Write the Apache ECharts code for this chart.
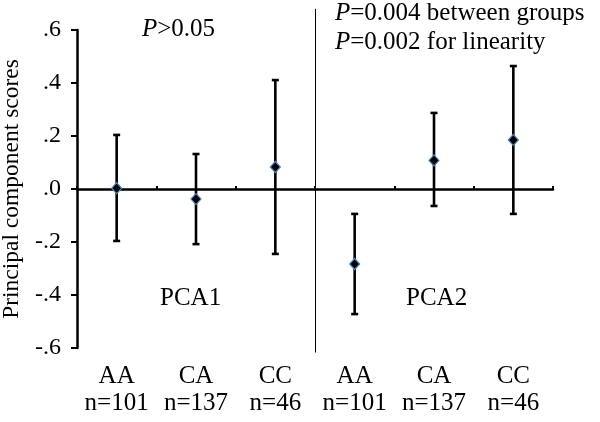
<!DOCTYPE html>
<html>
<head>
<meta charset="utf-8">
<script src="https://cdn.jsdelivr.net/npm/echarts@6/dist/echarts.min.js"></script>
<style>html,body{margin:0;padding:0;background:#fff}#c{width:600px;height:422px}</style>
</head>
<body>
<div id="c"></div>
<script>
var genotypes = ['AA', 'CA', 'CC', 'AA', 'CA', 'CC'];
var sampleSizes = [101, 137, 46, 101, 137, 46];
var means = [0.003, -0.038, 0.083, -0.283, 0.108, 0.185];
var lowers = [-0.196, -0.208, -0.245, -0.472, -0.064, -0.094];
var uppers = [0.204, 0.132, 0.411, -0.094, 0.287, 0.464];
var yTicks = [-0.6, -0.4, -0.2, 0.0, 0.2, 0.4, 0.6];

var FONT = '"Liberation Serif", "Times New Roman", serif';
var catLabels = genotypes.map(function (g, i) { return g + '\nn=' + sampleSizes[i]; });
var idx = genotypes.map(function (g, i) { return i; });

var chart = echarts.init(document.getElementById('c'), null, { renderer: 'canvas' });
chart.setOption({
  backgroundColor: '#fff',
  animation: false,
  grid: { left: 77, right: 47, top: 30, bottom: 74, containLabel: false, outerBoundsMode: 'none' },
  xAxis: [{
    type: 'category',
    data: idx,
    position: 'top',
    boundaryGap: true,
    axisLine: { onZero: true, lineStyle: { color: '#000', width: 2.5 } },
    axisTick: { show: true, inside: false, length: 3, lineStyle: { color: '#000', width: 2 } },
    axisLabel: { show: false },
    splitLine: { show: false }
  }, {
    type: 'category',
    data: catLabels,
    position: 'bottom',
    boundaryGap: true,
    axisLine: { show: false, onZero: false },
    axisTick: { show: false },
    axisLabel: { show: true, interval: 0, margin: 15, color: '#000', fontFamily: FONT, fontSize: 25, lineHeight: 27 },
    splitLine: { show: false }
  }],
  yAxis: {
    type: 'value',
    min: yTicks[0],
    max: yTicks[yTicks.length - 1],
    interval: 0.2,
    name: 'Principal component scores',
    nameLocation: 'middle',
    nameGap: 51,
    nameTextStyle: { color: '#000', fontFamily: FONT, fontSize: 23.5 },
    axisLine: { show: true, onZero: false, lineStyle: { color: '#000', width: 2.5 } },
    axisTick: { show: true, inside: false, length: 6, lineStyle: { color: '#000', width: 2 } },
    axisLabel: {
      margin: 16, color: '#000', fontFamily: FONT, fontSize: 24,
      formatter: function (v) { return (Math.round(v * 10) / 10).toFixed(1).replace('0.', '.'); }
    },
    splitLine: { show: false }
  },
  series: [{
    type: 'custom',
    xAxisIndex: 0,
    clip: false,
    z: 1,
    data: [[2, 0]],
    renderItem: function (params, api) {
      var a = api.coord([2, 0]);
      var b = api.coord([3, 0]);
      var x = Math.round((a[0] + b[0]) / 2) + 0.5;
      var top = api.coord([2, 0.68])[1];
      var bot = api.coord([2, -0.617])[1];
      return { type: 'line', shape: { x1: x, y1: top, x2: x, y2: bot }, style: { stroke: '#000', lineWidth: 1 } };
    }
  }, {
    type: 'custom',
    xAxisIndex: 0,
    z: 2,
    data: idx.map(function (i) { return [i, lowers[i], uppers[i]]; }),
    renderItem: function (params, api) {
      var lo = api.coord([api.value(0), api.value(1)]);
      var hi = api.coord([api.value(0), api.value(2)]);
      var w = 3.5;
      var st = { stroke: '#000', lineWidth: 2.6 };
      return {
        type: 'group',
        children: [
          { type: 'line', shape: { x1: lo[0], y1: lo[1], x2: hi[0], y2: hi[1] }, style: st },
          { type: 'line', shape: { x1: hi[0] - w, y1: hi[1], x2: hi[0] + w, y2: hi[1] }, style: st },
          { type: 'line', shape: { x1: lo[0] - w, y1: lo[1], x2: lo[0] + w, y2: lo[1] }, style: st }
        ]
      };
    }
  }, {
    type: 'scatter',
    xAxisIndex: 0,
    z: 3,
    symbol: 'diamond',
    symbolSize: [10, 11],
    itemStyle: { color: '#000', borderColor: '#4F81BD', borderWidth: 1.2, opacity: 1 },
    data: idx.map(function (i) { return [i, means[i]]; })
  }],
  graphic: [
    { type: 'text', left: 142, top: 17, style: { text: '{i|P}>0.05', fill: '#000', font: '25px ' + FONT, rich: { i: { fontStyle: 'italic', fontFamily: FONT, fontSize: 25 } } } },
    { type: 'text', left: 335, top: 1, style: { text: '{i|P}=0.004 between groups', fill: '#000', font: '25px ' + FONT, rich: { i: { fontStyle: 'italic', fontFamily: FONT, fontSize: 25 } } } },
    { type: 'text', left: 335, top: 30, style: { text: '{i|P}=0.002 for linearity', fill: '#000', font: '25px ' + FONT, rich: { i: { fontStyle: 'italic', fontFamily: FONT, fontSize: 25 } } } },
    { type: 'text', left: 160, top: 286, style: { text: 'PCA1', fill: '#000', font: '25px ' + FONT } },
    { type: 'text', left: 406, top: 286, style: { text: 'PCA2', fill: '#000', font: '25px ' + FONT } }
  ]
});
</script>
</body>
</html>
